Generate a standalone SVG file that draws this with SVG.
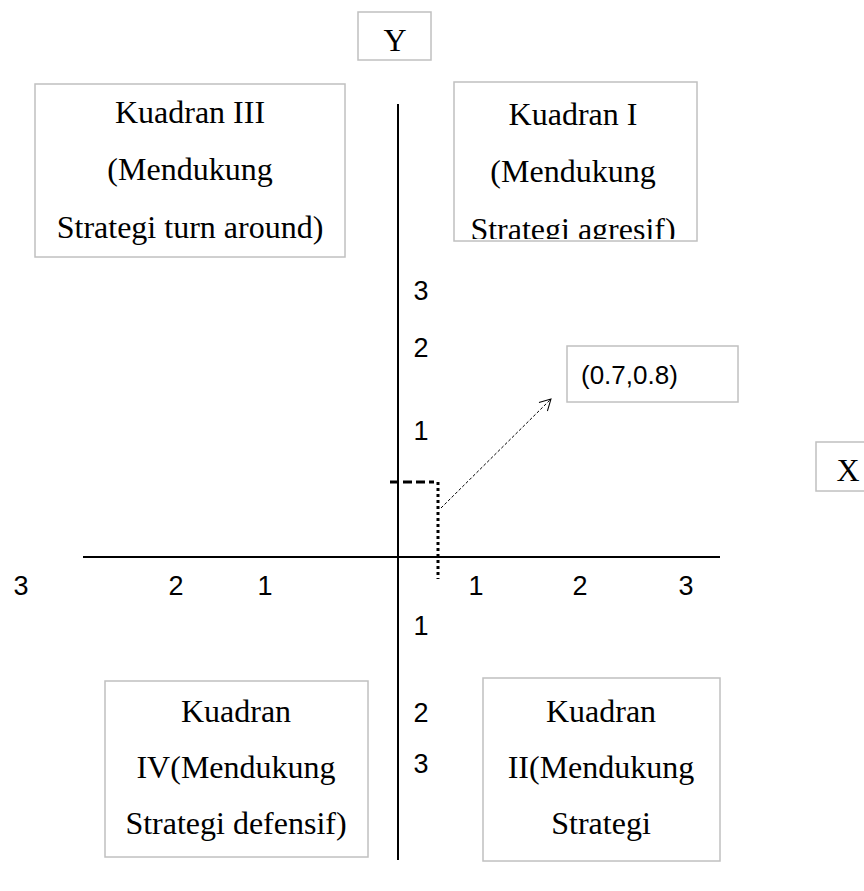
<svg xmlns="http://www.w3.org/2000/svg" width="864" height="891" viewBox="0 0 864 891">
<style>
.box{fill:#fff;stroke:#c0c0c0;stroke-width:1.5}
.t{font-family:"Liberation Serif","Times New Roman",serif;font-size:32px;fill:#000;text-anchor:middle}
.n{font-family:"Liberation Sans",Arial,sans-serif;font-size:27px;fill:#000;text-anchor:middle}
.axis{stroke:#000;stroke-width:2;fill:none}
</style>
<defs>
<marker id="arr" markerWidth="14" markerHeight="14" refX="12" refY="7" orient="auto" markerUnits="userSpaceOnUse">
<path d="M1,1 L12,7 L1,13" fill="none" stroke="#000" stroke-width="1"/>
</marker>
<clipPath id="c1"><rect x="454" y="82" width="243" height="157"/></clipPath>
</defs>
<rect width="864" height="891" fill="#fff"/>
<g id="axes">
<line class="axis" x1="398" y1="104" x2="398" y2="860"/>
<line class="axis" x1="83" y1="557" x2="720" y2="557"/>
</g>
<g id="connectors">
<line x1="390" y1="482" x2="434" y2="482" stroke="#000" stroke-width="3" stroke-dasharray="9,4"/>
<line x1="438" y1="482" x2="438" y2="579" stroke="#000" stroke-width="3" stroke-dasharray="3,3"/>
<line x1="441" y1="508" x2="551" y2="399" stroke="#000" stroke-width="1" stroke-dasharray="3,2" marker-end="url(#arr)"/>
</g>
<g id="labels">
<text class="n" x="421" y="300">3</text>
<text class="n" x="421" y="357">2</text>
<text class="n" x="421" y="440">1</text>
<text class="n" x="421" y="635">1</text>
<text class="n" x="421" y="722">2</text>
<text class="n" x="421" y="773">3</text>
<text class="n" x="21" y="595">3</text>
<text class="n" x="176" y="595">2</text>
<text class="n" x="265" y="595">1</text>
<text class="n" x="476" y="595">1</text>
<text class="n" x="580" y="595">2</text>
<text class="n" x="686" y="595">3</text>
</g>
<g id="nodeY">
<rect class="box" x="358" y="12" width="73" height="48"/>
<text class="t" x="395" y="51">Y</text>
</g>
<g id="nodeX">
<rect class="box" x="816" y="442" width="60" height="49"/>
<text class="t" x="848" y="481">X</text>
</g>
<g id="kuadran3">
<rect class="box" x="35" y="84" width="310" height="173"/>
<text class="t" x="190" y="123">Kuadran III</text>
<text class="t" x="190" y="180">(Mendukung</text>
<text class="t" x="190" y="238">Strategi turn around)</text>
</g>
<g id="kuadran1">
<rect class="box" x="454" y="82" width="243" height="159"/>
<g clip-path="url(#c1)">
<text class="t" x="573" y="125">Kuadran I</text>
<text class="t" x="573" y="182">(Mendukung</text>
<text class="t" x="573" y="240">Strategi agresif)</text>
</g>
</g>
<g id="point">
<rect class="box" x="567" y="346" width="171" height="56"/>
<text x="581" y="384" font-family="'Liberation Sans',Arial,sans-serif" font-size="26" fill="#000">(0.7,0.8)</text>
</g>
<g id="kuadran4">
<rect class="box" x="105" y="681" width="263" height="176"/>
<text class="t" x="236" y="722">Kuadran</text>
<text class="t" x="236" y="778">IV(Mendukung</text>
<text class="t" x="236" y="834">Strategi defensif)</text>
</g>
<g id="kuadran2">
<rect class="box" x="483" y="678" width="237" height="183"/>
<text class="t" x="601" y="722">Kuadran</text>
<text class="t" x="601" y="778">II(Mendukung</text>
<text class="t" x="601" y="834">Strategi</text>
</g>
</svg>
